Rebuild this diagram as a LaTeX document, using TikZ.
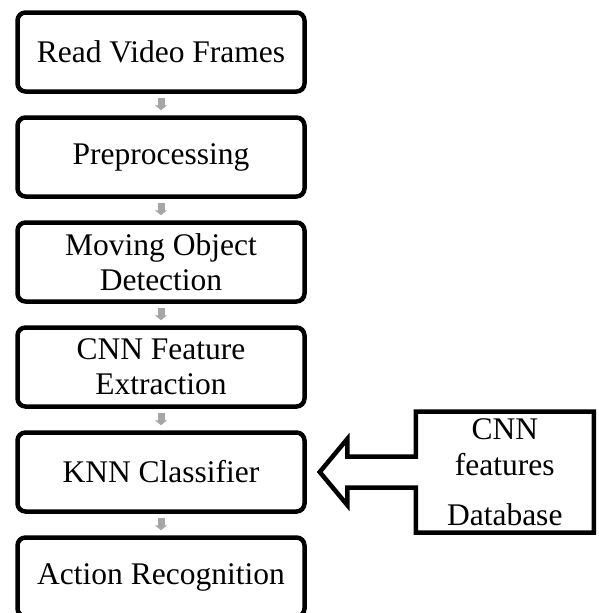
\documentclass[tikz,border=0pt]{standalone}
\usepackage{fontspec}
\setmainfont{Liberation Serif}
\usetikzlibrary{arrows.meta,positioning,calc}

\begin{document}
\begin{tikzpicture}
  
  \tikzset{main node/.style={rectangle, draw, line width=4.5pt,
  		rounded corners=8pt, minimum width=287pt, minimum height=79pt,
  		inner sep=0pt, text centered, align=center,
  		font=\fontsize{31.5}{35}\selectfont}, }
  \tikzset{db node/.style={rectangle, minimum width=178pt,
  		minimum height=121pt, inner sep=0pt, outer sep=0pt,
  		text centered, align=center,
  		font=\fontsize{31.5}{36}\selectfont}, }
  \tikzset{linea/.style={-{Triangle[width=12pt,length=5pt]},
  		line width=7pt, draw=black!35, shorten <=4pt, shorten >=5pt}, }
  \tikzset{callout/.style={line width=4.5pt, line join=miter}, }
\useasboundingbox (0,0) rectangle (598pt,-613pt);
\clip (0,0) rectangle (598pt,-613pt);
\node[main node] (1) at (161pt,-52pt) {Read Video Frames};
\node[main node] (2)[below =21.5pt of 1] {Preprocessing};
\node[main node] (3)[below =21.5pt of 2] {Moving Object\\Detection};
\node[main node] (4)[below =21.5pt of 3] {CNN Feature\\Extraction};
\node[main node] (5)[below =21.5pt of 4] {KNN Classifier};
\node[main node] (6)[below =21.5pt of 5] {Action Recognition};
\node[db node] (7)[right =109pt of 5] {CNN\\features\\[14pt]Database};
\foreach \x /\y in{1/2,2/3,3/4,4/5,5/6}
  \draw[linea] (\x) -- (\y);
\coordinate (tip) at ($(5.east)+(13pt,0)$);
\draw[callout] (7.north west) -- (7.north east) -- (7.south east)
  -- (7.south west) -- ($(7.west)+(0,-15.5pt)$)
  -- ($(7.west)+(-68.5pt,-15.5pt)$) -- ($(7.west)+(-68.5pt,-33pt)$)
  -- (tip) -- ($(7.west)+(-68.5pt,33pt)$)
  -- ($(7.west)+(-68.5pt,15.5pt)$) -- ($(7.west)+(0,15.5pt)$) -- cycle;
%%  
\end{tikzpicture}
\end{document}
